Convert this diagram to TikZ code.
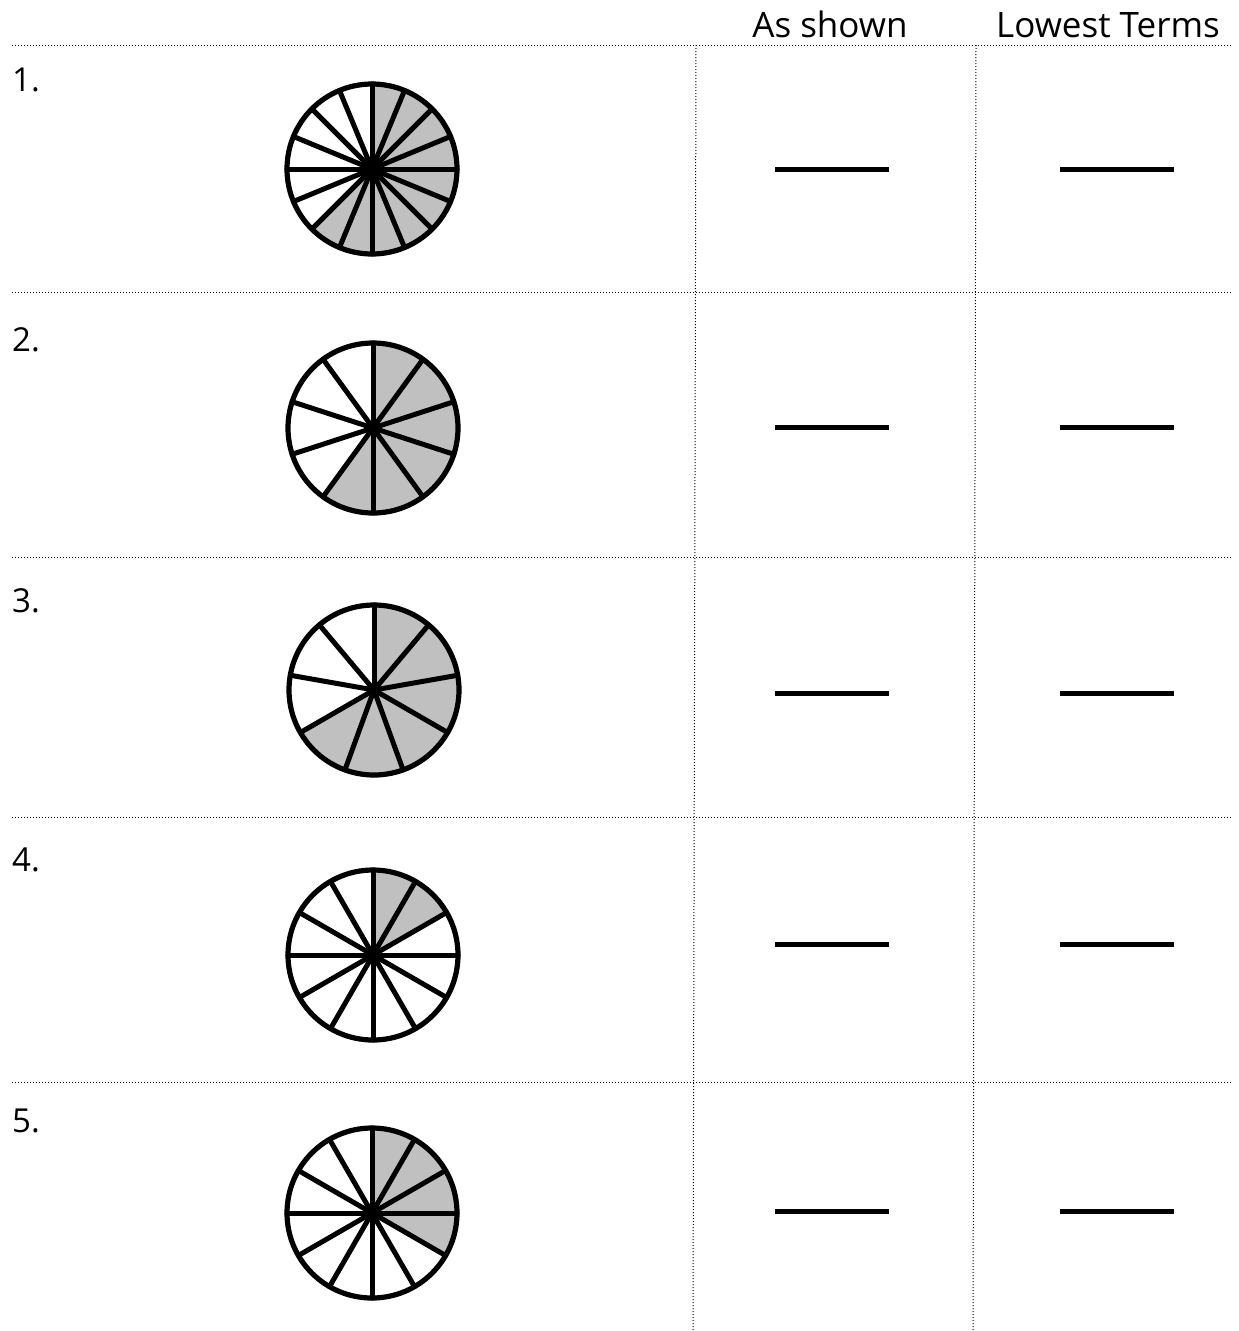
\documentclass[tikz,border=0pt]{standalone}
\usepackage{fontspec}
\setmainfont{Open Sans}
\definecolor{piegray}{HTML}{C0C0C0}
\tikzset{
  grid/.style={dotted, line width=1pt, black},
  ans/.style={line width=5pt},
  spoke/.style={line width=5pt},
  rim/.style={line width=5.2pt},
  head/.style={font=\fontsize{35}{40}\selectfont, inner sep=0pt, anchor=base},
  num/.style={font=\fontsize{33}{38}\selectfont, inner sep=0pt, anchor=base west},
}
\newcommand{\mypie}[6]{% name, x, y, n, a1, a2 (visual angles, ccw)
  \coordinate (#1) at (#2,#3);
  \fill[piegray] (#1) -- ++({-(#5)}:85) arc[start angle={-(#5)}, end angle={-(#6)}, radius=85] -- cycle;
  \foreach \i in {1,...,#4} \draw[spoke, line cap=round] (#1) -- ++({-90-(\i-1)*360/#4}:85);
  \draw[rim] (#1) circle[radius=85];
  \fill (#1) circle[radius=6];
}
\begin{document}
\begin{tikzpicture}[x=1pt,y=-1pt]
\useasboundingbox (0,0) rectangle (1239,1331);
% headers
\node[head] (h1) at (830,37) {As shown};
\node[head] (h2) at (1108,37) {Lowest Terms};
% horizontal lines
\foreach \y [count=\k] in {45,292,557,817,1082} {
  \coordinate (L\k) at (12,\y);
  \coordinate (R\k) at (1232,\y);
  \draw[grid] (L\k) -- (R\k);
}
% vertical lines
\coordinate (va) at (696,45); \coordinate (vb) at (693,1331);
\coordinate (wa) at (976,45); \coordinate (wb) at (973,1331);
\draw[grid] (va) -- (vb);
\draw[grid] (wa) -- (wb);
% numbers
\node[num] (n1) at (12,91) {1.};
\node[num] (n2) at (12,351) {2.};
\node[num] (n3) at (12,612) {3.};
\node[num] (n4) at (12,871) {4.};
\node[num] (n5) at (12,1132) {5.};
% pies
\mypie{p1}{372}{169}{16}{225}{450}
\mypie{p2}{373}{428}{10}{234}{450}
\mypie{p3}{374}{690}{9}{210}{450}
\mypie{p4}{373}{955}{12}{30}{90}
\mypie{p5}{372}{1213}{12}{-30}{90}
% answer lines
\foreach \y [count=\k] in {169,427,693,944,1211} {
  \coordinate (a\k l) at (775,\y); \coordinate (a\k r) at (889,\y);
  \coordinate (b\k l) at (1060,\y); \coordinate (b\k r) at (1174,\y);
  \draw[ans] (a\k l) -- (a\k r);
  \draw[ans] (b\k l) -- (b\k r);
}
\end{tikzpicture}
\end{document}
